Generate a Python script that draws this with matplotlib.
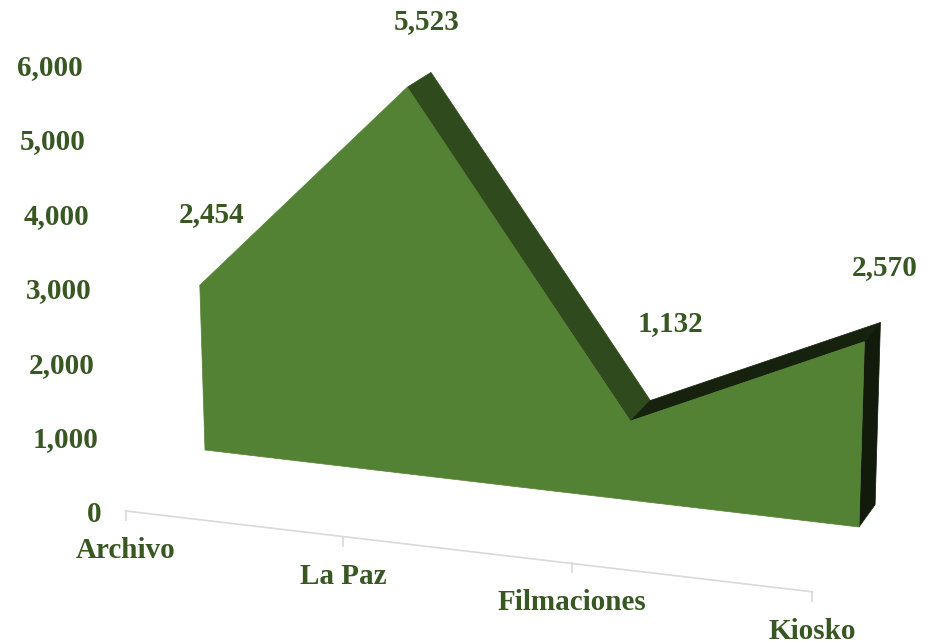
import numpy as np
import matplotlib
matplotlib.use('Agg')
import matplotlib.pyplot as plt
from matplotlib.patches import Polygon
from matplotlib.transforms import Transform, Affine2D, ScaledTranslation


categories = ['Archivo', 'La Paz', 'Filmaciones', 'Kiosko']
values = [2454, 5523, 1132, 2570]
value_ticks = [0, 1000, 2000, 3000, 4000, 5000, 6000]
value_labels = ['0', '1,000', '2,000', '3,000', '4,000', '5,000', '6,000']

TEXT_COLOR = '#385723'
FRONT_COLOR = '#548235'
FALL_COLOR = '#2F4B1D'
RISE_COLOR = '#16210E'
CAP_COLOR = '#121B0B'
AXIS_COLOR = '#D9D9D9'

FONT = {'family': 'Liberation Serif', 'weight': 'bold', 'size': 21}

# screen frame of the front plane: (0,0), (3,0), (0,6000), (3,6000)
FRONT_FRAME = [(205, 450), (859, 527), (192, 38), (872, 84)]
VANISH = (1806, -787)
DEPTH_BACK = 0.983
DEPTH_AXIS = 1 / 0.953

# small pixel nudges for the value labels (Excel places them unevenly)
label_nudge = [(-16, 0), (-4, 2), (20, -24), (4, -2)]


def homography(src, dst):
    A = []
    b = []
    for (x, y), (u, v) in zip(src, dst):
        A.append([x, y, 1, 0, 0, 0, -u * x, -u * y])
        b.append(u)
        A.append([0, 0, 0, x, y, 1, -v * x, -v * y])
        b.append(v)
    h = np.linalg.solve(np.array(A, float), np.array(b, float))
    return np.append(h, 1).reshape(3, 3)


class Perspective(Transform):
    input_dims = 2
    output_dims = 2

    def __init__(self, H, vp, k):
        super().__init__()
        self.H = H
        self.vp = np.asarray(vp, float)
        self.k = k

    def transform_non_affine(self, values):
        values = np.asarray(values, float).reshape(-1, 2)
        pts = np.column_stack([values[:, 0], values[:, 1] / 1000.0, np.ones(len(values))])
        out = pts @ self.H.T
        xy = out[:, :2] / out[:, 2:3]
        return self.vp + (xy - self.vp) * self.k


def draw_chart():
    fig = plt.figure(figsize=(9.3, 6.41), dpi=100)
    ax = fig.add_axes([0, 0, 1, 1])
    ax.set_xlim(0, 930)
    ax.set_ylim(641, 0)
    ax.set_autoscale_on(False)
    ax.axis('off')

    n = len(categories)
    H = homography([(0, 0), (n - 1, 0), (0, 6), (n - 1, 6)], FRONT_FRAME)
    front = Perspective(H, VANISH, 1.0)
    back = Perspective(H, VANISH, DEPTH_BACK)
    floor = Perspective(H, VANISH, DEPTH_AXIS)

    idx = np.arange(n)
    top = np.column_stack([idx, values])
    ftop = front.transform(top)
    btop = back.transform(top)

    # category axis
    ax.plot(idx[[0, -1]], [0, 0], color=AXIS_COLOR, lw=1.2, transform=floor + ax.transData)
    label_drop = ScaledTranslation(0, -0.47, fig.dpi_scale_trans)
    for i in idx:
        p = floor.transform([[i, 0]])[0]
        ax.plot([p[0], p[0]], [p[1], p[1] + 9], color=AXIS_COLOR, lw=1.2)
        ax.text(i, 0, categories[i], ha='center', va='baseline', color=TEXT_COLOR, fontdict=FONT,
                transform=floor + ax.transData + label_drop)

    # value axis labels
    vtrans = Affine2D.from_values(1, 0, -0.003, -0.0745, 101, 522) + ax.transData
    for v, lab in zip(value_ticks, value_labels):
        ax.text(0, v, lab, ha='right', va='baseline', color=TEXT_COLOR, fontdict=FONT,
                transform=vtrans)

    # top strips between front and back edges, only the visible ones
    for i in range(n - 1):
        e = ftop[i + 1] - ftop[i]
        o = btop[i] - ftop[i]
        if o[0] * e[1] - o[1] * e[0] <= 0:
            continue
        quad = [top[i], top[i + 1]]
        color = FALL_COLOR if values[i + 1] < values[i] else RISE_COLOR
        pts = np.vstack([front.transform(quad), back.transform(quad[::-1])])
        ax.add_patch(Polygon(pts, closed=True, facecolor=color, edgecolor=color, lw=0.5))

    # right end cap
    end = [[n - 1, values[-1]], [n - 1, 0]]
    pts = np.vstack([front.transform(end), back.transform(end[::-1])])
    ax.add_patch(Polygon(pts, closed=True, facecolor=CAP_COLOR, edgecolor=CAP_COLOR, lw=0.5))

    # front face
    outline = np.vstack([top, [[n - 1, 0], [0, 0]]])
    ax.add_patch(Polygon(outline, closed=True, facecolor=FRONT_COLOR, edgecolor=FRONT_COLOR,
                         lw=0.5, transform=front + ax.transData))

    # value labels
    for i in range(n):
        dx, dy = label_nudge[i]
        off = ScaledTranslation(dx / 100, (45 - dy) / 100, fig.dpi_scale_trans)
        ax.text(i, values[i], f'{values[i]:,}', ha='center', va='baseline', color=TEXT_COLOR,
                fontdict=FONT, transform=back + ax.transData + off)

    fig.savefig('out.png', dpi=100)


if __name__ == "__main__":
    draw_chart()
